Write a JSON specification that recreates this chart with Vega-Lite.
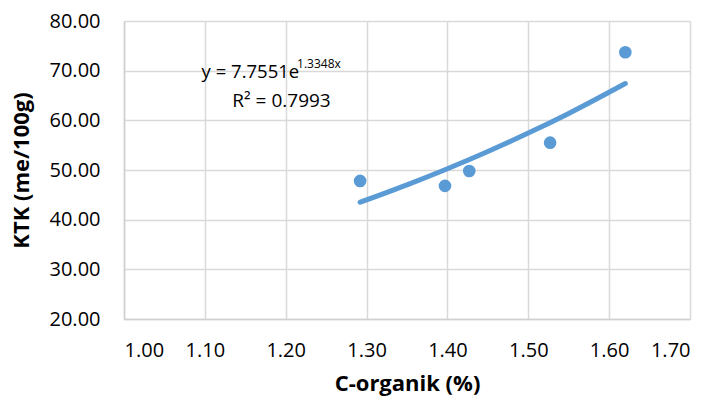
{
  "$schema": "https://vega.github.io/schema/vega-lite/v6.json",
  "width": 566,
  "height": 298,
  "autosize": {"type": "none"},
  "padding": {"left": 124, "top": 21, "right": 23, "bottom": 86},
  "background": "white",
  "config": {
    "view": {"stroke": null},
    "font": "Open Sans",
    "axis": {
      "gridColor": "#d9d9d9",
      "gridWidth": 1.5,
      "domainColor": "#d0d0d0",
      "domainWidth": 1.5,
      "ticks": false,
      "labelFont": "Open Sans",
      "labelFontSize": 20,
      "labelColor": "#000000",
      "titleFont": "Open Sans",
      "titleFontSize": 22,
      "titleFontWeight": "bold",
      "titleColor": "#000000"
    }
  },
  "datasets": {
    "points": [
      {"x": 1.292, "y": 47.8},
      {"x": 1.397, "y": 46.8},
      {"x": 1.427, "y": 49.8},
      {"x": 1.527, "y": 55.5},
      {"x": 1.62, "y": 73.7}
    ],
    "trend": [
      {"x": 1.292, "y": 43.51},
      {"x": 1.35, "y": 47.01},
      {"x": 1.40, "y": 50.25},
      {"x": 1.45, "y": 53.72},
      {"x": 1.50, "y": 57.43},
      {"x": 1.55, "y": 61.39},
      {"x": 1.62, "y": 67.41}
    ],
    "labels": [
      {"x": 1.096, "y": 69.7, "t": "y = 7.7551e", "s": 18.5},
      {"x": 1.214, "y": 71.4, "t": "1.3348x", "s": 12},
      {"x": 1.134, "y": 63.9, "t": "R² = 0.7993", "s": 19}
    ]
  },
  "layer": [
    {
      "data": {"name": "trend"},
      "mark": {"type": "line", "color": "#5B9BD5", "strokeWidth": 5, "strokeCap": "round", "interpolate": "monotone"},
      "encoding": {
        "x": {"field": "x", "type": "quantitative", "scale": {"domain": [1.0, 1.7], "nice": false},
          "axis": {"title": "C-organik (%)", "values": [1.0, 1.1, 1.2, 1.3, 1.4, 1.5, 1.6, 1.7], "format": ".2f", "labelPadding": 21, "titlePadding": 13}},
        "y": {"field": "y", "type": "quantitative", "scale": {"domain": [20, 80], "nice": false},
          "axis": {"title": "KTK (me/100g)", "values": [20, 30, 40, 50, 60, 70, 80], "format": ".2f", "labelPadding": 24, "titlePadding": 16}}
      }
    },
    {
      "data": {"name": "points"},
      "mark": {"type": "circle", "color": "#5B9BD5", "opacity": 1, "size": 160},
      "encoding": {
        "x": {"field": "x", "type": "quantitative"},
        "y": {"field": "y", "type": "quantitative"}
      }
    },
    {
      "data": {"name": "labels"},
      "mark": {"type": "text", "align": "left", "baseline": "middle", "color": "#000000", "font": "Open Sans"},
      "encoding": {
        "x": {"field": "x", "type": "quantitative"},
        "y": {"field": "y", "type": "quantitative"},
        "text": {"field": "t"},
        "size": {"field": "s", "type": "quantitative", "scale": null}
      }
    }
  ]
}
